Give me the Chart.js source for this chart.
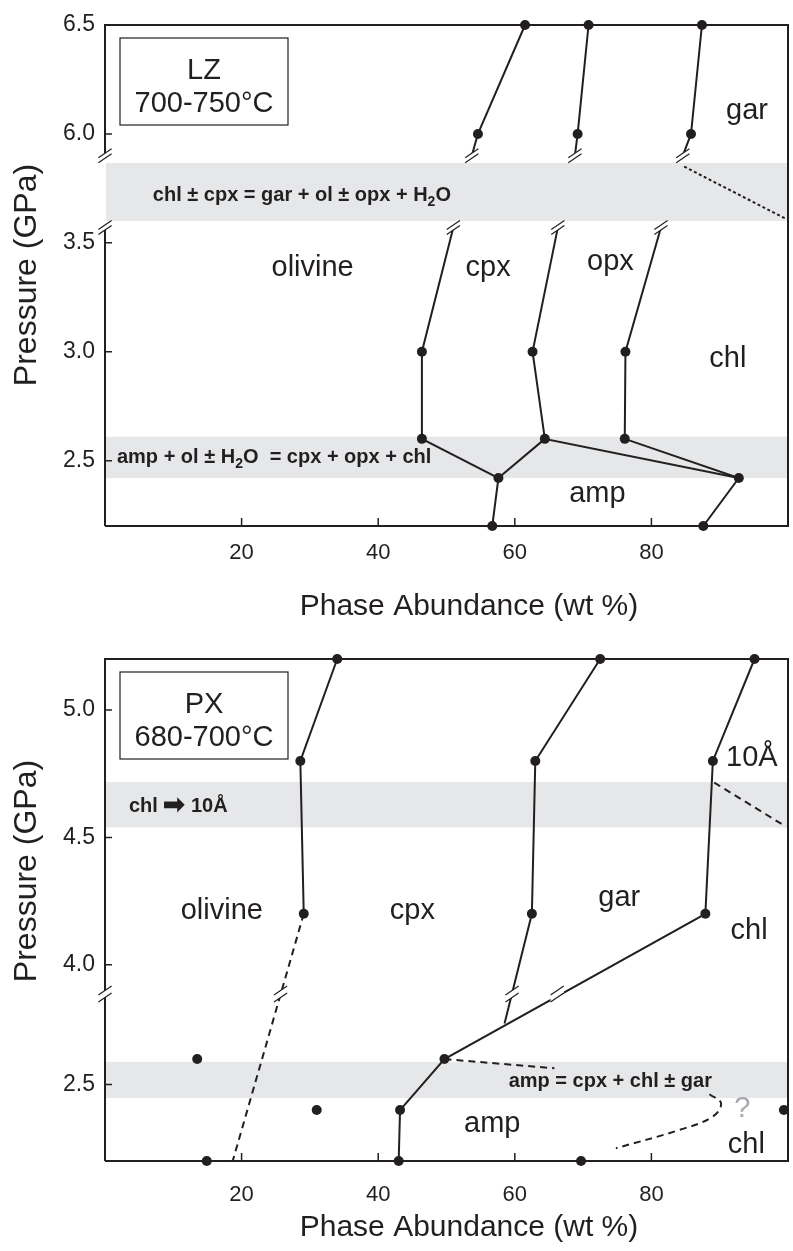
<!DOCTYPE html>
<html>
<head>
<meta charset="utf-8">
<script src="https://cdn.jsdelivr.net/npm/chart.js@4.4.1/dist/chart.umd.min.js"></script>
<style>
  body { margin: 0; background: #fff; }
  #wrap { position: relative; width: 793px; height: 1251px; }
  canvas { position: absolute; left: 0; }
  #lzChart { top: 0; }
  #pxChart { top: 630px; }
</style>
</head>
<body>
<div id="wrap">
  <canvas id="lzChart" width="793" height="630"></canvas>
  <canvas id="pxChart" width="793" height="621"></canvas>
</div>
<script>
const ink = '#231f20';
const bandGrey = '#e6e7e8';
const sans = '"Liberation Sans", Arial, sans-serif';

// phase abundance ticks, both panels
const wtTicks = [20, 40, 60, 80];

// ---- LZ, 700-750 °C : [wt %, P GPa] ----
const lzPressTicks = [2.5, 3.0, 3.5, 6.0, 6.5];
const lzRuns = [[61.5, 6.5], [70.8, 6.5], [87.4, 6.5], [54.6, 6.0], [69.2, 6.0], [85.8, 6.0],
  [46.4, 3.0], [62.6, 3.0], [76.2, 3.0], [46.4, 2.6], [64.4, 2.6], [76.1, 2.6],
  [57.6, 2.42], [92.8, 2.42], [56.7, 2.2], [87.6, 2.2]];
const lzOlCpxHigh = [[61.5, 6.5], [54.6, 6.0], [53.7, 5.9]];
const lzCpxOpxHigh = [[70.8, 6.5], [69.2, 6.0], [68.8, 5.9]];
const lzOpxGarHigh = [[87.4, 6.5], [85.8, 6.0], [84.6, 5.9]];
const lzOlCpx = [[51.0, 3.57], [46.4, 3.0], [46.4, 2.6], [57.6, 2.42], [56.7, 2.2]];
const lzCpxOpx = [[66.3, 3.57], [62.6, 3.0], [64.4, 2.6], [92.8, 2.42]];
const lzCpxAmp = [[64.4, 2.6], [57.6, 2.42]];
const lzOpxChl = [[81.4, 3.57], [76.2, 3.0], [76.1, 2.6], [92.8, 2.42], [87.6, 2.2]];
const lzGarChl = [[84.8, 5.85], [99.7, 3.61]];
const lzBands = [[5.867, 3.60], [2.61, 2.42]];
const lzBreaks = [[53.7, 5.9], [68.8, 5.9], [84.6, 5.9], [51.0, 3.57], [66.3, 3.57], [81.4, 3.57]];

// ---- PX, 680-700 °C ----
const pxPressTicks = [2.5, 4.0, 4.5, 5.0];
const pxRuns = [[34.0, 5.2], [72.5, 5.2], [95.1, 5.2], [28.6, 4.8], [63.0, 4.8], [89.0, 4.8],
  [29.1, 4.2], [62.5, 4.2], [87.9, 4.2], [13.5, 2.6], [49.7, 2.6], [31.0, 2.4], [43.2, 2.4],
  [99.4, 2.4], [14.9, 2.2], [43.0, 2.2], [69.7, 2.2]];
const pxOlCpx = [[34.0, 5.2], [28.6, 4.8], [29.1, 4.2]];
const pxOlCpxLow = [[29.1, 4.2], [18.7, 2.2]];
const pxCpxGar = [[72.5, 5.2], [63.0, 4.8], [62.5, 4.2], [58.5, 2.74]];
const pxGarChl = [[95.1, 5.2], [89.0, 4.8], [87.9, 4.2], [49.7, 2.6], [43.2, 2.4], [43.0, 2.2]];
const pxChl10A = [[89.2, 4.715], [99.7, 4.542]];
const pxAmpOut = [[49.7, 2.6], [65.8, 2.564]];
const pxAmpChl = [[88.5, 2.462], [90.2, 2.426], [88.9, 2.373], [84.1, 2.322], [74.8, 2.25]];
const pxBands = [[4.717, 4.539], [2.589, 2.447]];
const pxBreaks = [[25.7, 3.885], [59.6, 3.885], [66.2, 3.885]];

// broken pressure axes
const lzAxis = p => p > 5 ? p - 2 : p;
const pxAxis = p => p > 3.2 ? p : p + 1.03;

function breakMark(ctx, x, y, gap) {
  const dx = Math.cos(0.6) * 8, dy = -Math.sin(0.6) * 8;
  ctx.fillStyle = '#fff';
  ctx.beginPath();
  ctx.moveTo(x - dx, y - dy - gap); ctx.lineTo(x + dx, y + dy - gap);
  ctx.lineTo(x + dx, y + dy + gap); ctx.lineTo(x - dx, y - dy + gap);
  ctx.closePath();
  ctx.fill();
  ctx.strokeStyle = ink;
  ctx.lineWidth = 1.2;
  ctx.beginPath();
  ctx.moveTo(x - dx, y - dy - gap); ctx.lineTo(x + dx, y + dy - gap);
  ctx.moveTo(x - dx, y - dy + gap); ctx.lineTo(x + dx, y + dy + gap);
  ctx.stroke();
}

// text runs: [text, size, baseline shift]
function drawParts(ctx, parts, x, y) {
  ctx.fillStyle = ink;
  ctx.textAlign = 'left';
  ctx.textBaseline = 'alphabetic';
  parts.forEach(([t, size, shift]) => {
    ctx.font = 'bold ' + size + 'px ' + sans;
    ctx.fillText(t, x, y + (shift || 0));
    x += ctx.measureText(t).width;
  });
}

function decor(d) {
  return {
    id: 'phaseDecor',
    beforeDatasetsDraw(chart) {
      const {ctx, chartArea: a, scales: {x, y}} = chart;
      const py = p => y.getPixelForValue(d.axis(p));
      ctx.save();
      ctx.fillStyle = bandGrey;
      d.bands.forEach(([hi, lo]) => ctx.fillRect(a.left + 1, py(hi), a.right - a.left - 1, py(lo) - py(hi)));

      const cuts = d.axisBreaks.map(py);
      ctx.strokeStyle = ink;
      ctx.lineWidth = 2;
      ctx.beginPath();
      ctx.moveTo(a.left, a.bottom);
      ctx.lineTo(a.right, a.bottom);
      ctx.lineTo(a.right, a.top);
      ctx.lineTo(a.left, a.top);
      if (cuts.length === 2) {
        ctx.lineTo(a.left, cuts[0]);
        ctx.moveTo(a.left, cuts[1]);
      }
      ctx.lineTo(a.left, a.bottom);
      ctx.stroke();

      ctx.lineWidth = 1.5;
      ctx.beginPath();
      y.ticks.forEach(t => {
        const v = y.getPixelForValue(t.value);
        ctx.moveTo(a.left, v); ctx.lineTo(a.left + 7, v);
      });
      x.ticks.forEach(t => {
        const v = x.getPixelForValue(t.value);
        ctx.moveTo(v, a.bottom); ctx.lineTo(v, a.bottom - 8);
      });
      ctx.stroke();

      d.bandText.forEach(b => drawParts(ctx, b.parts, x.getPixelForValue(b.x), py(b.p)));
      ctx.restore();
    },
    afterDatasetsDraw(chart) {
      const {ctx, chartArea: a, scales: {x, y}} = chart;
      const py = p => y.getPixelForValue(d.axis(p));
      ctx.save();
      d.axisBreaks.forEach(p => breakMark(ctx, a.left, py(p), d.gap));
      d.lineBreaks.forEach(([w, p]) => breakMark(ctx, x.getPixelForValue(w), py(p), d.gap));

      ctx.font = '29px ' + sans;
      ctx.textAlign = 'center';
      ctx.textBaseline = 'alphabetic';
      d.labels.forEach(([t, w, p, c]) => {
        ctx.fillStyle = c || ink;
        ctx.fillText(t, x.getPixelForValue(w), py(p));
      });

      // sample box
      const bx = a.left + 15, by = a.top + 13;
      ctx.strokeStyle = ink;
      ctx.lineWidth = 1.2;
      ctx.strokeRect(bx, by, 168, 87);
      ctx.fillStyle = ink;
      ctx.fillText(d.box[0], bx + 84, by + 41);
      ctx.fillText(d.box[1], bx + 84, by + 74);

      // axis titles
      ctx.font = '30px ' + sans;
      ctx.textBaseline = 'middle';
      ctx.fillText('Phase Abundance (wt %)', 469, d.xTitleY);
      ctx.translate(27, d.yTitleY);
      ctx.rotate(-Math.PI / 2);
      ctx.font = '32px ' + sans;
      ctx.fillText('Pressure (GPa)', 0, 0);
      ctx.restore();
    }
  };
}

const toPts = (arr, axis) => arr.map(([x, p]) => ({x: x, y: axis(p)}));

function boundary(arr, axis, dash, tension) {
  return {
    data: toPts(arr, axis),
    showLine: true,
    borderColor: ink,
    borderWidth: 2,
    borderDash: dash || [],
    tension: tension || 0,
    pointRadius: 0,
    clip: false
  };
}

function runs(arr, axis) {
  return {
    data: toPts(arr, axis),
    showLine: false,
    pointRadius: 5,
    pointBackgroundColor: ink,
    pointBorderWidth: 0,
    clip: false
  };
}

function phaseChart(id, c) {
  return new Chart(document.getElementById(id), {
    type: 'scatter',
    data: {datasets: c.datasets},
    options: {
      responsive: false,
      animation: false,
      events: [],
      layout: {padding: {top: c.top, right: 4, left: 0, bottom: 0}},
      plugins: {legend: {display: false}, tooltip: {enabled: false}},
      scales: {
        x: {
          min: 0, max: 100,
          afterBuildTicks: s => { s.ticks = wtTicks.map(v => ({value: v})); },
          afterFit: s => { s.height = c.xHeight; },
          grid: {display: false, drawTicks: false},
          border: {display: false},
          ticks: {color: ink, padding: c.xPad, maxRotation: 0, autoSkip: false,
            font: {family: sans, size: 22}}
        },
        y: {
          min: c.yMin, max: c.yMax,
          afterBuildTicks: s => { s.ticks = c.pTicks.map(p => ({value: c.axis(p)})); },
          afterFit: s => { s.width = 105; },
          grid: {display: false, drawTicks: false},
          border: {display: false},
          ticks: {color: ink, padding: 10, font: {family: sans, size: 23},
            callback: (v, i) => c.pTicks[i].toFixed(1)}
        }
      }
    },
    plugins: [decor(c.decor)]
  });
}

phaseChart('lzChart', {
  top: 25, xHeight: 104, xPad: 14,
  yMin: 2.2, yMax: 4.5, axis: lzAxis, pTicks: lzPressTicks,
  datasets: [
    runs(lzRuns, lzAxis),
    boundary(lzOlCpxHigh, lzAxis), boundary(lzCpxOpxHigh, lzAxis), boundary(lzOpxGarHigh, lzAxis),
    boundary(lzOlCpx, lzAxis), boundary(lzCpxOpx, lzAxis), boundary(lzCpxAmp, lzAxis),
    boundary(lzOpxChl, lzAxis), boundary(lzGarChl, lzAxis, [3, 2.5])
  ],
  decor: {
    axis: lzAxis, bands: lzBands, axisBreaks: [5.9, 3.57], lineBreaks: lzBreaks, gap: 2.5,
    bandText: [
      {x: 7.0, p: 3.69, parts: [['chl ± cpx = gar + ol ± opx + H', 20], ['2', 14, 5], ['O', 20]]},
      {x: 1.75, p: 2.49, parts: [['amp + ol ± H', 20], ['2', 14, 5], ['O  = cpx + opx + chl', 20]]}
    ],
    labels: [['gar', 94.0, 6.07], ['olivine', 30.4, 3.35], ['cpx', 56.1, 3.35],
      ['opx', 74.0, 3.375], ['chl', 91.2, 2.93], ['amp', 72.1, 2.31]],
    box: ['LZ', '700-750°C'],
    xTitleY: 607,
    yTitleY: 275
  }
});

phaseChart('pxChart', {
  top: 29, xHeight: 90, xPad: 21,
  yMin: 3.23, yMax: 5.2, axis: pxAxis, pTicks: pxPressTicks,
  datasets: [
    runs(pxRuns, pxAxis),
    boundary(pxOlCpx, pxAxis), boundary(pxOlCpxLow, pxAxis, [7, 5]),
    boundary(pxCpxGar, pxAxis), boundary(pxGarChl, pxAxis),
    boundary(pxChl10A, pxAxis, [7, 5]), boundary(pxAmpOut, pxAxis, [7, 5]),
    boundary(pxAmpChl, pxAxis, [7, 5], 0.4)
  ],
  decor: {
    axis: pxAxis, bands: pxBands, axisBreaks: [3.885], lineBreaks: pxBreaks, gap: 3.5,
    bandText: [
      {x: 3.5, p: 4.6, parts: [['chl ', 20], ['➡', 26, 1], [' 10Å', 20]]},
      {x: 59.1, p: 2.489, parts: [['amp = cpx + chl ± gar', 20]]}
    ],
    labels: [['10Å', 94.7, 4.78], ['olivine', 17.1, 4.18], ['cpx', 45.0, 4.18],
      ['gar', 75.3, 4.23], ['chl', 94.3, 4.1], ['amp', 56.7, 2.314],
      ['chl', 93.9, 2.231], ['?', 93.3, 2.373, '#a7a9ac']],
    box: ['PX', '680-700°C'],
    xTitleY: 598,
    yTitleY: 241
  }
});
</script>
</body>
</html>
